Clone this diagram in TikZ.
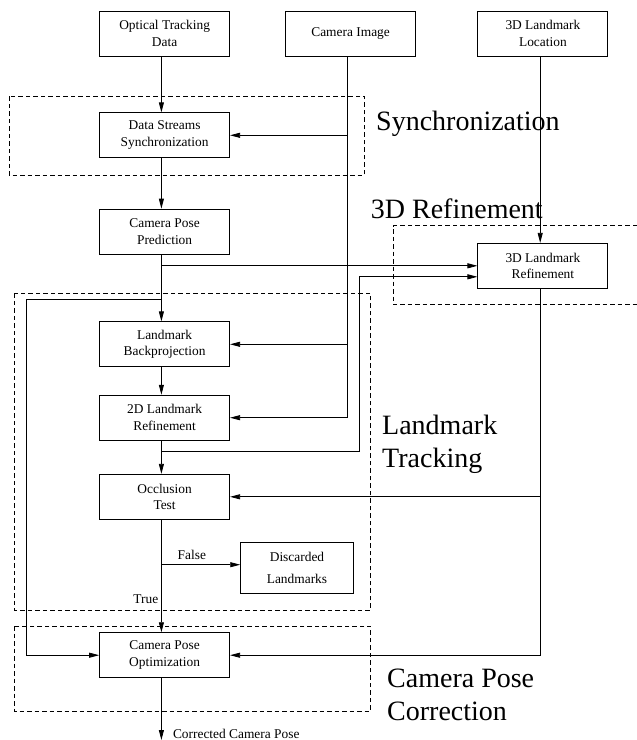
\documentclass[tikz,border=0pt]{standalone}
\usepackage{fontspec}
\setmainfont{Liberation Serif}
\usetikzlibrary{arrows.meta,calc}
\begin{document}
\begin{tikzpicture}[x=1pt,y=-1pt,
  box/.style={draw, line width=0.9pt, minimum width=130pt, minimum height=45pt, inner sep=0pt, align=center, font=\fontsize{13.4}{16.7}\selectfont},
  arr/.style={line width=0.8pt, -{Triangle[length=10pt,width=5pt]}},
  grp/.style={dash pattern=on 4.5pt off 3pt, line width=0.7pt},
  big/.style={font=\fontsize{28}{33}\selectfont, inner sep=0pt},
  lbl/.style={font=\fontsize{13.4}{16.7}\selectfont, inner sep=0pt}]
\useasboundingbox (0,0) rectangle (637,740);

% group frames
\draw[grp] (8.9,96.3) rectangle (364.6,175);
\draw[grp] (637,225.7) -- (393,225.7) -- (393,304.7) -- (637,304.7);
\draw[grp] (14.6,293.3) rectangle (370.7,610);
\draw[grp] (14.6,626) rectangle (370.7,711);

% boxes
\node[box] (opt) at (164.6,33.7) {Optical Tracking\\Data};
\node[box] (cam) at (350.6,33.7) {Camera Image};
\node[box] (loc) at (542.9,33.7) {3D Landmark\\Location};
\node[box] (sync) at (164.6,135.3) {Data Streams\\Synchronization};
\node[box] (pred) at (164.6,231.6) {Camera Pose\\Prediction};
\node[box] (ref3d) at (542.9,265.8) {3D Landmark\\Refinement};
\node[box] (back) at (164.6,344.3) {Landmark\\Backprojection};
\node[box] (ref2d) at (164.6,417.7) {2D Landmark\\Refinement};
\node[box] (occ) at (164.6,496.8) {Occlusion\\Test};
\node[box, minimum width=112.6pt, minimum height=51.3pt, font=\fontsize{13.4}{22.4}\selectfont] (disc) at (297,567.7) {Discarded\\Landmarks};
\node[box] (opti) at (164.6,655.2) {Camera Pose\\Optimization};

% group labels
\node[big, anchor=base west] (lsync) at (376,130) {Synchronization};
\node[big, anchor=base west] (lref) at (370.7,218.3) {3D Refinement};
\node[big, anchor=base west] (ltrack) at (382,467) {\begin{tabular}[b]{@{}l@{}}Landmark\\Tracking\end{tabular}};
\node[big, anchor=base west] (lcorr) at (387,720.7) {\begin{tabular}[b]{@{}l@{}}Camera Pose\\Correction\end{tabular}};

% helper coordinates
\coordinate (colx) at (161.4,0);
\coordinate (camx) at (347.6,0);
\coordinate (locx) at (540.2,0);
\coordinate (fb) at (26,299.3);
\coordinate (br) at (359.3,451.7);
\coordinate (out) at (161.4,740);
\coordinate (fa) at ($(disc.west)+(0,-3)$);
\coordinate (r3b) at ($(ref3d.west)+(0,11)$);

% main column
\draw[arr] (opt.south -| colx) -- (sync.north -| colx);
\draw[arr] (sync.south -| colx) -- (pred.north -| colx);
\draw[arr] (pred.south -| colx) -- (back.north -| colx);
\draw[arr] (back.south -| colx) -- (ref2d.north -| colx);
\draw[arr] (ref2d.south -| colx) -- (occ.north -| colx);
\draw[arr] (occ.south -| colx) -- (opti.north -| colx);
\draw[arr] (opti.south -| colx) -- (out);
\node[lbl, anchor=base west] (outlbl) at (172.8,738.3) {Corrected Camera Pose};

% camera image feed
\draw[arr] (cam.south -| camx) |- (ref2d.east);
\draw[arr] (camx |- sync.east) -- (sync.east);
\draw[arr] (camx |- back.east) -- (back.east);

% to 3D refinement
\draw[arr] (colx |- ref3d.west) -- (ref3d.west);
\draw[arr] (br -| colx) -- (br) |- (r3b);

% feedback to optimization
\draw[arr] (fb -| colx) -- (fb) |- (opti.west);

% 3D landmark path
\draw[arr] (loc.south -| locx) -- (ref3d.north -| locx);
\draw[arr] (ref3d.south -| locx) |- (opti.east);
\draw[arr] (locx |- occ.east) -- (occ.east);

% occlusion outcomes
\draw[arr] (fa -| colx) -- node[lbl, above=4.7pt, pos=0.386] (flbl) {False} (fa);
\node[lbl, anchor=base east] (tlbl) at (158.5,603.3) {True};
\end{tikzpicture}
\end{document}
